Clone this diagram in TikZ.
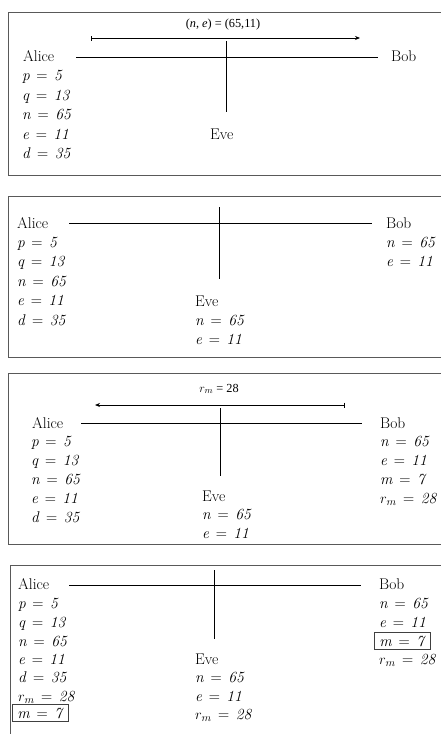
\documentclass[tikz,border=0pt]{standalone}
\usepackage{fontspec}
\usetikzlibrary{arrows.meta}
\newfontfamily\lblfont{Liberation Serif}
\newcommand\vv[2]{\textit{#1}\hspace{0.42em}=\hspace{0.42em}\textit{#2}}
\begin{document}
\begin{tikzpicture}[x=1pt,y=-1pt,
  font=\fontsize{15.5}{18}\selectfont,
  who/.style={anchor=base west,inner sep=0pt},
  boxed/.style={anchor=base west,draw=black!75,line width=0.9pt,inner xsep=5pt,inner ysep=3pt},
  lbl/.style={anchor=base,inner sep=0pt,font=\lblfont\fontsize{12.3}{14}\selectfont},
  frame/.style={draw=black!65,line width=1pt},
  wire/.style={line width=0.9pt},
  msg/.style={line width=0.8pt,{Bar[width=5pt,line width=0.8pt]}-{Stealth[length=5pt,width=4pt]}}]
\useasboundingbox (0,0) rectangle (441,734);
\clip (0,0) rectangle (441,734);
\fill[white] (0,0) rectangle (441,734);
% ---------- panel 1
\draw[frame] (8,12) rectangle (470,175);
\node[lbl] (t1) at (223,27) {(\textit{n}, \textit{e}) = (65,11)};
\coordinate (s1) at (91,38); \coordinate (d1) at (360,38);
\draw[msg] (s1) -- (d1);
\node[who] (A1) at (23,61) {Alice};
\node[who] (B1) at (391,61) {Bob};
\node[who] (E1) at (210,139) {Eve};
\coordinate (h1a) at (76,57); \coordinate (h1b) at (378,57);
\coordinate (v1a) at (226,41); \coordinate (v1b) at (226,112);
\draw[wire] (h1a) -- (h1b); \draw[wire] (v1a) -- (v1b);
\node[who] (A1p) at (22,80.5) {\vv{p}{5}};
\node[who] (A1q) at (22,100) {\vv{q}{13}};
\node[who] (A1n) at (22,119.5) {\vv{n}{65}};
\node[who] (A1e) at (22,139) {\vv{e}{11}};
\node[who] (A1d) at (22,158.5) {\vv{d}{35}};
% ---------- panel 2
\draw[frame] (8,196) rectangle (470,357);
\node[who] (A2) at (17,228) {Alice};
\node[who] (B2) at (386,228) {Bob};
\node[who] (E2) at (195,306) {Eve};
\coordinate (h2a) at (69,223); \coordinate (h2b) at (372,223);
\coordinate (v2a) at (219,207); \coordinate (v2b) at (219,279);
\draw[wire] (h2a) -- (h2b); \draw[wire] (v2a) -- (v2b);
\node[who] (A2p) at (17,247) {\vv{p}{5}};
\node[who] (A2q) at (17,266.5) {\vv{q}{13}};
\node[who] (A2n) at (17,286) {\vv{n}{65}};
\node[who] (A2e) at (17,305.5) {\vv{e}{11}};
\node[who] (A2d) at (17,325) {\vv{d}{35}};
\node[who] (B2n) at (386,247) {\vv{n}{65}};
\node[who] (B2e) at (386,266.5) {\vv{e}{11}};
\node[who] (E2n) at (195,325) {\vv{n}{65}};
\node[who] (E2e) at (195,344.5) {\vv{e}{11}};
% ---------- panel 3
\draw[frame] (8,373) rectangle (470,544);
\node[lbl] (t3) at (219,392) {$r_m$ = 28};
\coordinate (s3) at (345,405); \coordinate (d3) at (95,405);
\draw[msg] (s3) -- (d3);
\node[who] (A3) at (32,428) {Alice};
\node[who] (B3) at (380,428) {Bob};
\node[who] (E3) at (202,501) {Eve};
\coordinate (h3a) at (81,423); \coordinate (h3b) at (362,423);
\coordinate (v3a) at (220,408); \coordinate (v3b) at (220,476);
\draw[wire] (h3a) -- (h3b); \draw[wire] (v3a) -- (v3b);
\node[who] (A3p) at (31,446) {\vv{p}{5}};
\node[who] (A3q) at (31,465) {\vv{q}{13}};
\node[who] (A3n) at (31,484) {\vv{n}{65}};
\node[who] (A3e) at (31,503) {\vv{e}{11}};
\node[who] (A3d) at (31,522) {\vv{d}{35}};
\node[who] (B3n) at (380,446) {\vv{n}{65}};
\node[who] (B3e) at (380,465) {\vv{e}{11}};
\node[who] (B3m) at (380,484) {\vv{m}{7}};
\node[who] (B3r) at (380,503) {\vv{$r_m$}{28}};
\node[who] (E3n) at (202,519) {\vv{n}{65}};
\node[who] (E3e) at (202,538) {\vv{e}{11}};
% ---------- panel 4
\draw[frame] (10,565) rectangle (470,760);
\node[who] (A4) at (18,589) {Alice};
\node[who] (B4) at (379,589) {Bob};
\node[who] (E4) at (195,664) {Eve};
\coordinate (h4a) at (69,585); \coordinate (h4b) at (361,585);
\coordinate (v4a) at (214,570); \coordinate (v4b) at (214,639);
\draw[wire] (h4a) -- (h4b); \draw[wire] (v4a) -- (v4b);
\node[who] (A4p) at (18,608) {\vv{p}{5}};
\node[who] (A4q) at (18,627) {\vv{q}{13}};
\node[who] (A4n) at (18,646) {\vv{n}{65}};
\node[who] (A4e) at (18,664) {\vv{e}{11}};
\node[who] (A4d) at (18,682.5) {\vv{d}{35}};
\node[who] (A4r) at (18,701) {\vv{$r_m$}{28}};
\node[boxed] (A4m) at (12,718) {\vv{m}{7}};
\node[who] (B4n) at (379,608) {\vv{n}{65}};
\node[who] (B4e) at (379,627) {\vv{e}{11}};
\node[boxed] (B4m) at (374,646) {\vv{m}{7}};
\node[who] (B4r) at (379,664) {\vv{$r_m$}{28}};
\node[who] (E4n) at (195,682.5) {\vv{n}{65}};
\node[who] (E4e) at (195,701) {\vv{e}{11}};
\node[who] (E4r) at (195,719.5) {\vv{$r_m$}{28}};
\end{tikzpicture}
\end{document}
